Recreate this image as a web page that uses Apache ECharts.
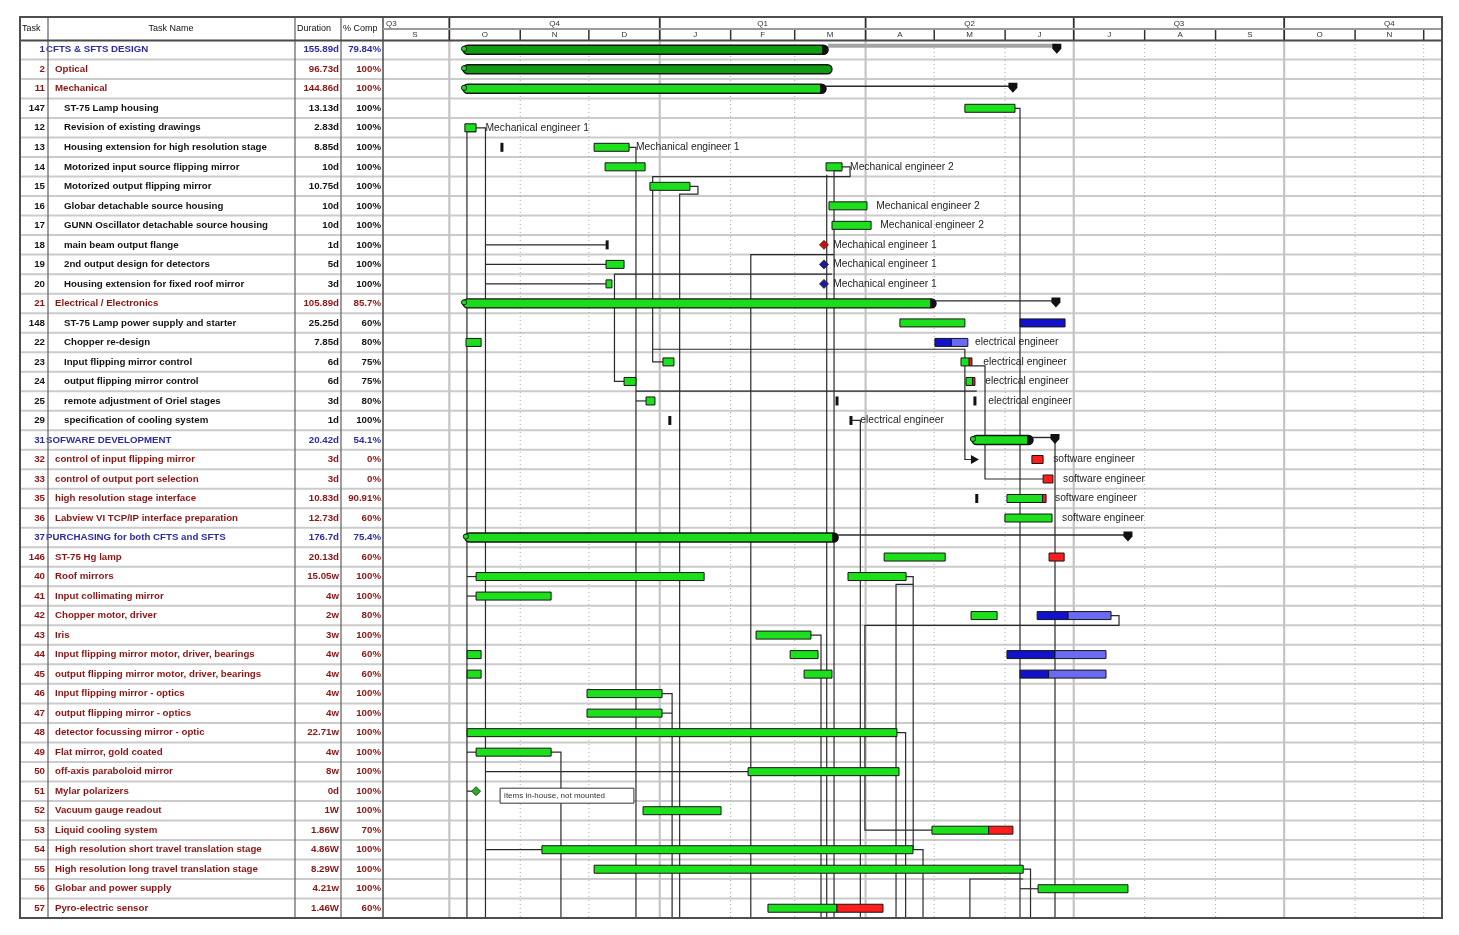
<!DOCTYPE html>
<html>
<head>
<meta charset="utf-8">
<title>CFTS &amp; SFTS project schedule</title>
<script src="https://cdn.jsdelivr.net/npm/echarts@6.0.0/dist/echarts.min.js"></script>
<style>
html,body{margin:0;padding:0;background:#ffffff;}
#chart{width:1459px;height:935px;}
</style>
</head>
<body>
<div id="chart"></div>
<script>
// ---------- task table ----------
const taskIds = ['1','2','11','147','12','13','14','15','16','17','18','19','20','21','148','22','23','24','25','29',
  '31','32','33','35','36','37','146','40','41','42','43','44','45','46','47','48','49','50','51','52','53','54','55','56','57'];
const taskNames = ['CFTS & SFTS DESIGN','Optical','Mechanical','ST-75 Lamp housing','Revision of existing drawings',
  'Housing extension for high resolution stage','Motorized input source flipping mirror','Motorized output flipping mirror',
  'Globar detachable source housing','GUNN Oscillator detachable source housing','main beam output flange',
  '2nd output design for detectors','Housing extension for fixed roof mirror','Electrical / Electronics',
  'ST-75 Lamp power supply and starter','Chopper re-design','Input flipping mirror control','output flipping mirror control',
  'remote adjustment of Oriel stages','specification of cooling system','SOFWARE DEVELOPMENT',
  'control of input flipping mirror','control of output port selection','high resolution stage interface',
  'Labview VI TCP/IP interface preparation','PURCHASING for both CFTS and SFTS','ST-75 Hg lamp','Roof mirrors',
  'Input collimating mirror','Chopper motor, driver','Iris','Input flipping mirror motor, driver, bearings',
  'output flipping mirror motor, driver, bearings','Input flipping mirror - optics','output flipping mirror - optics',
  'detector focussing mirror - optic','Flat mirror, gold coated','off-axis paraboloid mirror','Mylar polarizers',
  'Vacuum gauge readout','Liquid cooling system','High resolution short travel translation stage',
  'High resolution long travel translation stage','Globar and power supply','Pyro-electric sensor'];
const outlineLevels = [0,1,1,2,2,2,2,2,2,2,2,2,2,1,2,2,2,2,2,2,0,1,1,1,1,0,1,1,1,1,1,1,1,1,1,1,1,1,1,1,1,1,1,1,1];
const durations = ['155.89d','96.73d','144.86d','13.13d','2.83d','8.85d','10d','10.75d','10d','10d','1d','5d','3d',
  '105.89d','25.25d','7.85d','6d','6d','3d','1d','20.42d','3d','3d','10.83d','12.73d','176.7d','20.13d','15.05w',
  '4w','2w','3w','4w','4w','4w','4w','22.71w','4w','8w','0d','1W','1.86W','4.86W','8.29W','4.21w','1.46W'];
const percentComplete = ['79.84%','100%','100%','100%','100%','100%','100%','100%','100%','100%','100%','100%','100%',
  '85.7%','60%','80%','75%','75%','80%','100%','54.1%','0%','0%','90.91%','60%','75.4%','60%','100%','100%','80%',
  '100%','60%','60%','100%','100%','100%','100%','100%','100%','100%','70%','100%','100%','100%','60%'];

// ---------- timescale (day numbers counted from 1 October) ----------
const monthStarts  = [-30, 0, 31, 61, 92, 123, 151, 182, 212, 243, 273, 304, 335, 365, 396, 426];
const monthLetters = ['S','O','N','D','J','F','M','A','M','J','J','A','S','O','N','D'];
const quarterStarts = [-92, 0, 92, 182, 273, 365];
const quarterLabels = ['Q3','Q4','Q1','Q2','Q3','Q4'];

// ---------- schedule (row number, start day, finish day) ----------
// summary rows: [row, start, completed-to, finish]
const summaryBars = [
  [1, 6.0, 165.6, 265.6],
  [2, 6.0, 167.3, 167.3],
  [3, 6.0, 164.7, 246.4],
  [14, 6.0, 212.8, 265.2],
  [21, 228.5, 255.2, 264.8],
  [26, 6.8, 170.0, 296.7]
];
// task segments: [row, start, finish, status]
const taskSegments = [
  [4, 225.4, 247.3, 'done'],
  [5, 6.8, 11.7, 'done'],
  [6, 63.3, 78.6, 'done'],
  [7, 68.1, 85.6, 'done'],
  [7, 164.7, 171.7, 'done'],
  [8, 87.7, 105.2, 'done'],
  [9, 166.0, 182.6, 'done'],
  [10, 167.3, 184.4, 'done'],
  [12, 68.5, 76.4, 'done'],
  [13, 68.5, 71.1, 'done'],
  [15, 197.0, 225.4, 'done'],
  [15, 249.5, 269.2, 'open'],
  [16, 7.3, 13.9, 'done'],
  [16, 212.3, 219.5, 'open'],
  [16, 219.5, 226.7, 'openLight'],
  [17, 93.4, 98.2, 'done'],
  [18, 76.4, 81.6, 'done'],
  [19, 86.0, 89.9, 'done'],
  [22, 254.7, 259.6, 'late'],
  [23, 259.6, 263.9, 'late'],
  [25, 242.9, 263.5, 'done'],
  [27, 190.1, 216.8, 'done'],
  [27, 262.2, 268.8, 'late'],
  [28, 11.7, 111.4, 'done'],
  [28, 174.3, 199.7, 'done'],
  [29, 11.7, 44.5, 'done'],
  [30, 228.1, 239.5, 'done'],
  [30, 257.0, 270.5, 'open'],
  [30, 270.5, 289.3, 'openLight'],
  [31, 134.1, 158.1, 'done'],
  [32, 7.8, 13.9, 'done'],
  [32, 149.0, 161.2, 'done'],
  [32, 243.8, 264.8, 'open'],
  [32, 264.8, 287.1, 'openLight'],
  [33, 7.8, 13.9, 'done'],
  [33, 155.1, 167.3, 'done'],
  [33, 249.5, 262.0, 'open'],
  [33, 262.0, 287.1, 'openLight'],
  [34, 60.2, 93.0, 'done'],
  [35, 60.2, 93.0, 'done'],
  [36, 7.8, 195.7, 'done'],
  [37, 11.7, 44.5, 'done'],
  [38, 130.6, 196.6, 'done'],
  [40, 84.7, 118.8, 'done'],
  [42, 40.5, 202.7, 'done'],
  [43, 63.3, 250.9, 'done'],
  [44, 257.4, 296.7, 'done']
];
// tasks split by their % complete: [row, start, finish]
const progressTasks = [
  [17, 223.7, 228.5],
  [18, 225.9, 229.8],
  [24, 243.8, 260.9],
  [41, 211.0, 246.4],
  [45, 139.3, 189.6]
];
// short marks: [row, day]
const tickMarks = [[6, 23.0], [11, 69.0], [19, 169.5], [19, 229.8], [20, 96.4], [20, 175.6], [24, 230.6]];
// milestones: [row, day, kind]
const milestones = [[11, 163.8, 'late'], [12, 163.8, 'open'], [13, 163.8, 'open'], [39, 11.7, 'done']];
const arrowMarks = [[22, 229.8]];
// resource names: [row, day, text]
const resourceLabels = [
  [5, 15.8, 'Mechanical engineer 1'], [6, 81.6, 'Mechanical engineer 1'], [7, 175.2, 'Mechanical engineer 2'],
  [9, 186.6, 'Mechanical engineer 2'], [10, 188.4, 'Mechanical engineer 2'], [11, 167.8, 'Mechanical engineer 1'],
  [12, 167.8, 'Mechanical engineer 1'], [13, 167.8, 'Mechanical engineer 1'], [16, 229.8, 'electrical engineer'],
  [17, 233.4, 'electrical engineer'], [18, 234.3, 'electrical engineer'], [19, 235.6, 'electrical engineer'],
  [20, 179.7, 'electrical engineer'], [22, 264.0, 'software engineer'], [23, 268.3, 'software engineer'],
  [24, 264.8, 'software engineer'], [25, 267.9, 'software engineer']
];
// note: [row, start, finish, text]
const notes = [[39, 22.2, 80.7, 'items in-house, not mounted']];
// dependency routes: points of [day, row position]
const linkPaths = [
  [[11.7,4.7],[7.7,4.7],[7.7,45]],
  [[11.7,4.5],[15.8,4.5],[15.8,45]],
  [[15.8,10.5],[68.5,10.5]],
  [[15.8,11.5],[68.5,11.5]],
  [[15.8,12.5],[68.5,12.5]],
  [[7.7,27.5],[11.7,27.5]],
  [[7.7,28.5],[11.7,28.5]],
  [[7.7,36.5],[11.7,36.5]],
  [[7.7,38.5],[11.7,38.5]],
  [[15.8,37.5],[130.6,37.5]],
  [[15.8,41.5],[40.5,41.5]],
  [[78.6,5.5],[81.6,5.5],[81.6,45]],
  [[81.6,18.0],[230.6,18.0]],
  [[81.6,18.5],[86.0,18.5]],
  [[171.7,6.5],[175.2,6.5],[175.2,7.0],[88.9,7.0],[88.9,16.5],[93.4,16.5]],
  [[105.2,7.5],[108.7,7.5],[108.7,7.9],[100.7,7.9],[100.7,45]],
  [[167.3,12.0],[72.2,12.0],[72.2,17.5],[76.4,17.5]],
  [[168.2,11.0],[131.8,11.0],[131.8,45]],
  [[88.9,15.85],[225.4,15.85],[225.4,21.5],[229.8,21.5]],
  [[165.0,6.9],[165.0,45]],
  [[171.7,6.7],[168.2,6.7],[168.2,45]],
  [[175.6,19.5],[179.7,19.5],[179.7,45]],
  [[199.7,27.5],[202.8,27.5],[202.8,41.5]],
  [[202.8,27.9],[195.3,27.9],[195.3,45]],
  [[247.3,3.5],[249.5,3.5],[249.5,45]],
  [[264.8,20.5],[264.8,45]],
  [[289.3,29.5],[292.8,29.5],[292.8,30.0],[181.7,30.0],[181.7,40.5],[211.0,40.5]],
  [[158.1,30.5],[162.5,30.5],[162.5,45]],
  [[93.0,33.5],[97.4,33.5],[97.4,45]],
  [[93.0,34.5],[97.4,34.5]],
  [[195.7,35.5],[199.5,35.5],[199.5,45]],
  [[44.5,36.5],[48.8,36.5],[48.8,45]],
  [[202.7,41.5],[207.1,41.5],[207.1,45]],
  [[250.9,42.5],[254.1,42.5],[254.1,45]],
  [[250.9,43.0],[227.6,43.0],[227.6,45]],
  [[228.5,16.7],[234.2,16.7],[234.2,22.5],[259.6,22.5]],
  [[249.5,43.5],[257.4,43.5]]
];

// ---------- drawing ----------
const X_MIN = -29, X_MAX = 434, ROWS = taskIds.length;
const FRAME = { left: 20, top: 17, right: 1442, bottom: 918 };
const COL_LINES = [48, 295, 341];
const FONT = '"Liberation Sans", Arial, sans-serif';
const TABLE_FONT = 'bold 9.7px ' + FONT;
const levelColors = ['#2c2ca6', '#8e1414', '#141414'];
const statusFill = { done: '#1be01b', late: '#ff1c1c', open: '#1212cc', openLight: '#6a6af2' };
const milestoneFill = { done: '#22b022', late: '#c81010', open: '#1a1a9a' };
const darkSummaryRows = new Set([1, 2]);
const grayTrackRows = new Set([1]);

const dayX = (api, d) => api.coord([d, 0])[0];
const rowPos = (api, v) => api.coord([X_MIN, v])[1];
const rowCenter = (api, r) => rowPos(api, r - 0.5);

function pctOf(row) { return parseFloat(percentComplete[row - 1]) / 100; }

function barRect(api, row, a, b, fill) {
  const yc = rowCenter(api, row);
  const x1 = dayX(api, a), x2 = dayX(api, b);
  return { type: 'rect', shape: { x: x1, y: yc - 4, width: Math.max(x2 - x1, 1), height: 8 },
    style: { fill: fill, stroke: '#161616', lineWidth: 1 } };
}

const chart = echarts.init(document.getElementById('chart'), null, { renderer: 'canvas' });

const option = {
  animation: false,
  backgroundColor: '#ffffff',
  grid: { left: 383, right: 1459 - FRAME.right, top: 40, bottom: 935 - FRAME.bottom },
  xAxis: { type: 'value', min: X_MIN, max: X_MAX, show: false },
  yAxis: { type: 'value', min: 0, max: ROWS, inverse: true, show: false },
  graphic: {
    elements: [
      // table header titles
      { type: 'text', z: 50, style: { text: 'Task', x: 22, y: 29, font: '9px ' + FONT, fill: '#111', verticalAlign: 'middle' } },
      { type: 'text', z: 50, style: { text: 'Task Name', x: 171, y: 29, font: '9px ' + FONT, fill: '#111', align: 'center', verticalAlign: 'middle' } },
      { type: 'text', z: 50, style: { text: 'Duration', x: 297, y: 29, font: '9px ' + FONT, fill: '#111', verticalAlign: 'middle' } },
      { type: 'text', z: 50, style: { text: '% Comp', x: 343, y: 29, font: '9px ' + FONT, fill: '#111', verticalAlign: 'middle' } },
      // column dividers
      ...COL_LINES.map(x => ({ type: 'line', z: 40, shape: { x1: x, y1: FRAME.top, x2: x, y2: FRAME.bottom }, style: { stroke: '#6a6a6a', lineWidth: 1.3 } })),
      { type: 'line', z: 40, shape: { x1: 383, y1: FRAME.top, x2: 383, y2: FRAME.bottom }, style: { stroke: '#555', lineWidth: 1.6 } },
      // header separators
      { type: 'line', z: 40, shape: { x1: 383, y1: 29, x2: FRAME.right, y2: 29 }, style: { stroke: '#9a9a9a', lineWidth: 2 } },
      { type: 'line', z: 40, shape: { x1: FRAME.left, y1: 40.5, x2: FRAME.right, y2: 40.5 }, style: { stroke: '#4a4a4a', lineWidth: 2 } },
      // outer frame
      { type: 'rect', z: 60, shape: { x: FRAME.left, y: FRAME.top, width: FRAME.right - FRAME.left, height: FRAME.bottom - FRAME.top },
        style: { fill: 'none', stroke: '#4e4e4e', lineWidth: 2 } }
    ]
  },
  series: [
    // table rows and row separators
    {
      type: 'custom', z: 1, silent: true, clip: false,
      data: taskIds.map((_, i) => [0, i + 0.5]),
      encode: { x: 0, y: 1 },
      renderItem(params, api) {
        const i = params.dataIndex, r = i + 1;
        const yc = rowCenter(api, r), yb = rowPos(api, r);
        const color = levelColors[outlineLevels[i]];
        const font = TABLE_FONT;
        const nameX = 46 + outlineLevels[i] * 9;
        return { type: 'group', children: [
          { type: 'line', shape: { x1: FRAME.left, y1: yb, x2: FRAME.right, y2: yb }, style: { stroke: '#cbcbcb', lineWidth: 2 } },
          { type: 'text', style: { text: taskIds[i], x: 45, y: yc, align: 'right', verticalAlign: 'middle', font, fill: color } },
          { type: 'text', style: { text: taskNames[i], x: nameX, y: yc, align: 'left', verticalAlign: 'middle', font, fill: color } },
          { type: 'text', style: { text: durations[i], x: 339, y: yc, align: 'right', verticalAlign: 'middle', font, fill: color } },
          { type: 'text', style: { text: percentComplete[i], x: 381, y: yc, align: 'right', verticalAlign: 'middle', font, fill: color } }
        ] };
      }
    },
    // months: dotted grid lines, header ticks and letters
    {
      type: 'custom', z: 2, silent: true, clip: false,
      data: monthStarts.map(d => [d, 0]),
      encode: { x: 0, y: 1 },
      renderItem(params, api) {
        const i = params.dataIndex;
        const s = monthStarts[i], e = i + 1 < monthStarts.length ? monthStarts[i + 1] : s + 31;
        const left = dayX(api, X_MIN), right = dayX(api, X_MAX);
        const top = rowPos(api, 0), bottom = rowPos(api, ROWS);
        const xs = dayX(api, s), xe = dayX(api, e);
        const children = [];
        if (xs > left + 1 && xs < right - 1 && quarterStarts.indexOf(s) < 0) {
          children.push({ type: 'line', shape: { x1: xs, y1: top, x2: xs, y2: bottom }, style: { stroke: '#a8a8a8', lineWidth: 1, lineDash: [1, 3] } });
          children.push({ type: 'line', shape: { x1: xs, y1: top - 10, x2: xs, y2: top }, style: { stroke: '#333', lineWidth: 1.5 } });
        }
        const cx = (xs + xe) / 2;
        if (cx > left && cx < right - 4) {
          children.push({ type: 'text', style: { text: monthLetters[i], x: cx, y: top - 5, align: 'center', verticalAlign: 'middle', font: '8px ' + FONT, fill: '#333' } });
        }
        return { type: 'group', children };
      }
    },
    // quarters: grid lines, header separators and labels
    {
      type: 'custom', z: 2, silent: true, clip: false,
      data: quarterStarts.map(d => [d, 0]),
      encode: { x: 0, y: 1 },
      renderItem(params, api) {
        const i = params.dataIndex;
        const s = quarterStarts[i], e = i + 1 < quarterStarts.length ? quarterStarts[i + 1] : s + 92;
        const left = dayX(api, X_MIN), right = dayX(api, X_MAX);
        const top = rowPos(api, 0), bottom = rowPos(api, ROWS);
        const xs = dayX(api, s), xe = dayX(api, e);
        const children = [];
        if (xs > left + 1 && xs < right - 1) {
          children.push({ type: 'line', shape: { x1: xs, y1: top, x2: xs, y2: bottom }, style: { stroke: '#c4c4c4', lineWidth: 2.2 } });
          children.push({ type: 'line', shape: { x1: xs, y1: top - 22, x2: xs, y2: top }, style: { stroke: '#2e2e2e', lineWidth: 1.8 } });
        }
        let cx = (xs + xe) / 2, align = 'center';
        if (cx < left + 8) { cx = left + 3; align = 'left'; }
        if (cx < right - 6) {
          children.push({ type: 'text', style: { text: quarterLabels[i], x: cx, y: top - 16.5, align, verticalAlign: 'middle', font: '8px ' + FONT, fill: '#333' } });
        }
        return { type: 'group', children };
      }
    },
    // dependency links
    {
      type: 'custom', z: 3, silent: true, clip: false,
      data: linkPaths.map(p => [p[0][0], p[0][1]]),
      encode: { x: 0, y: 1 },
      renderItem(params, api) {
        const pts = linkPaths[params.dataIndex].map(p => api.coord(p));
        return { type: 'polyline', shape: { points: pts }, style: { stroke: '#2a2a2a', lineWidth: 1.2, fill: 'none' } };
      }
    },
    // summary bars
    {
      type: 'custom', z: 4, silent: true, clip: false,
      data: summaryBars.map(b => [b[1], b[0] - 0.5]),
      encode: { x: 0, y: 1 },
      renderItem(params, api) {
        const [row, a, done, fin] = summaryBars[params.dataIndex];
        const yc = rowCenter(api, row);
        const x1 = dayX(api, a), x2 = dayX(api, done), xe = dayX(api, fin);
        const children = [];
        if (fin > done) {
          if (grayTrackRows.has(row)) {
            children.push({ type: 'rect', shape: { x: x2, y: yc - 6, width: xe - x2, height: 4 }, style: { fill: '#a4a4a4' } });
          } else {
            children.push({ type: 'line', shape: { x1: x2, y1: yc - 2.5, x2: xe, y2: yc - 2.5 }, style: { stroke: '#2a2a2a', lineWidth: 1.4 } });
          }
          children.push({ type: 'polygon', shape: { points: [[xe - 4.5, yc - 6], [xe + 4.5, yc - 6], [xe + 4.5, yc - 1], [xe, yc + 4], [xe - 4.5, yc - 1]] }, style: { fill: '#111' } });
        }
        children.push({ type: 'rect', shape: { x: x1, y: yc - 4.5, width: x2 - x1, height: 9, r: 4.5 },
          style: { fill: darkSummaryRows.has(row) ? '#109c10' : '#1bdc1b', stroke: '#141414', lineWidth: 1.4 } });
        if (fin > done) {
          children.push({ type: 'rect', shape: { x: x2 - 6, y: yc - 4.5, width: 6, height: 9, r: [0, 4, 4, 0] }, style: { fill: '#111' } });
        }
        children.push({ type: 'circle', shape: { cx: x1 + 1, cy: yc - 1, r: 2.6 }, style: { fill: '#1bdc1b', stroke: '#141414', lineWidth: 1 } });
        return { type: 'group', children };
      }
    },
    // task segments
    {
      type: 'custom', z: 5, silent: true, clip: false,
      data: taskSegments.map(b => [b[1], b[0] - 0.5]),
      encode: { x: 0, y: 1 },
      renderItem(params, api) {
        const [row, a, b, status] = taskSegments[params.dataIndex];
        return barRect(api, row, a, b, statusFill[status]);
      }
    },
    // tasks split by % complete
    {
      type: 'custom', z: 5, silent: true, clip: false,
      data: progressTasks.map(b => [b[1], b[0] - 0.5]),
      encode: { x: 0, y: 1 },
      renderItem(params, api) {
        const [row, a, b] = progressTasks[params.dataIndex];
        const split = a + (b - a) * pctOf(row);
        return { type: 'group', children: [barRect(api, row, a, split, statusFill.done), barRect(api, row, split, b, statusFill.late)] };
      }
    },
    // short marks
    {
      type: 'custom', z: 5, silent: true, clip: false,
      data: tickMarks.map(t => [t[1], t[0] - 0.5]),
      encode: { x: 0, y: 1 },
      renderItem(params, api) {
        const [row, d] = tickMarks[params.dataIndex];
        const x = dayX(api, d), yc = rowCenter(api, row);
        return { type: 'rect', shape: { x: x - 1.5, y: yc - 4.5, width: 3, height: 9 }, style: { fill: '#111' } };
      }
    },
    // milestones and arrows
    {
      type: 'custom', z: 6, silent: true, clip: false,
      data: milestones.map(m => [m[1], m[0] - 0.5]),
      encode: { x: 0, y: 1 },
      renderItem(params, api) {
        const [row, d, kind] = milestones[params.dataIndex];
        const x = dayX(api, d), yc = rowCenter(api, row);
        return { type: 'polygon', shape: { points: [[x, yc - 4.5], [x + 4.5, yc], [x, yc + 4.5], [x - 4.5, yc]] },
          style: { fill: milestoneFill[kind], stroke: '#222', lineWidth: 0.8 } };
      }
    },
    {
      type: 'custom', z: 6, silent: true, clip: false,
      data: arrowMarks.map(m => [m[1], m[0] - 0.5]),
      encode: { x: 0, y: 1 },
      renderItem(params, api) {
        const [row, d] = arrowMarks[params.dataIndex];
        const x = dayX(api, d), yc = rowCenter(api, row);
        return { type: 'polygon', shape: { points: [[x - 4, yc - 4.5], [x + 4, yc], [x - 4, yc + 4.5]] }, style: { fill: '#111' } };
      }
    },
    // resource names
    {
      type: 'custom', z: 7, silent: true, clip: false,
      data: resourceLabels.map(l => [l[1], l[0] - 0.5]),
      encode: { x: 0, y: 1 },
      renderItem(params, api) {
        const [row, d, text] = resourceLabels[params.dataIndex];
        return { type: 'text', style: { text, x: dayX(api, d), y: rowCenter(api, row), align: 'left', verticalAlign: 'middle', font: '10.3px ' + FONT, fill: '#1e1e1e' } };
      }
    },
    // notes
    {
      type: 'custom', z: 7, silent: true, clip: false,
      data: notes.map(n => [n[1], n[0] - 0.5]),
      encode: { x: 0, y: 1 },
      renderItem(params, api) {
        const [row, a, b, text] = notes[params.dataIndex];
        const x1 = dayX(api, a), x2 = dayX(api, b), yc = rowCenter(api, row);
        return { type: 'group', children: [
          { type: 'rect', shape: { x: x1, y: yc - 3, width: x2 - x1, height: 15 }, style: { fill: '#ffffff', stroke: '#333', lineWidth: 1 } },
          { type: 'text', style: { text, x: x1 + 4, y: yc + 4.5, align: 'left', verticalAlign: 'middle', font: '8px ' + FONT, fill: '#333' } }
        ] };
      }
    }
  ]
};

chart.setOption(option);
</script>
</body>
</html>
